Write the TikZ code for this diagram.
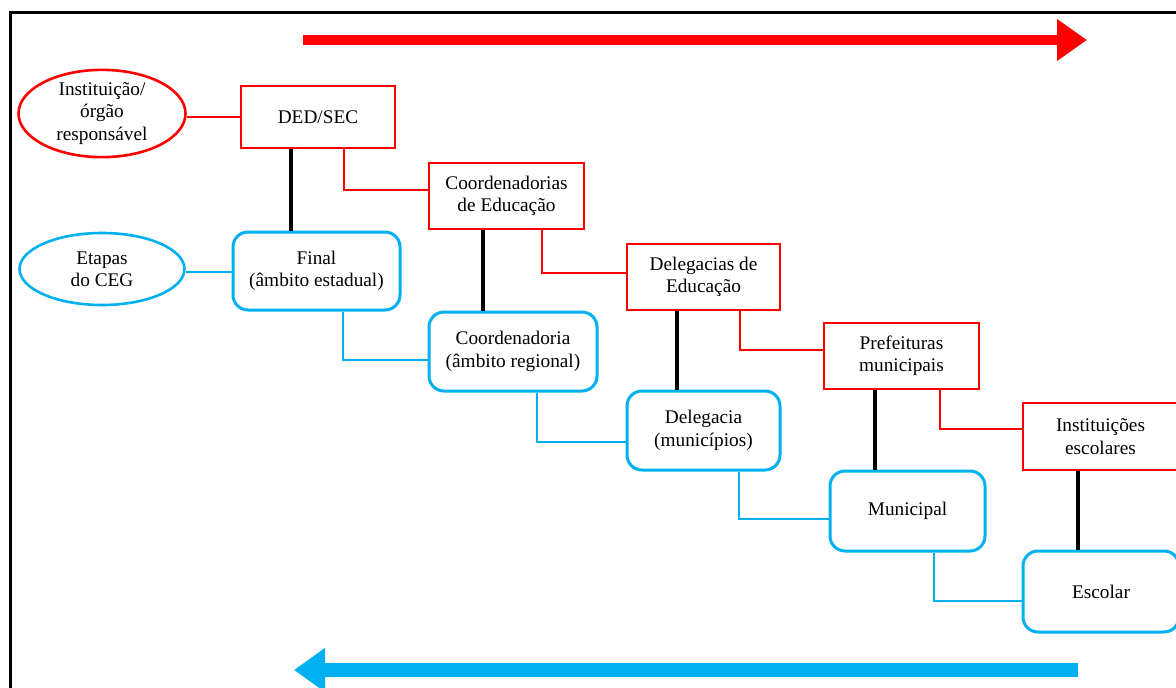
\documentclass[tikz,border=0pt]{standalone}
\usepackage{fontspec}
\setmainfont{Liberation Serif}
\usepackage{xcolor}
\definecolor{orgRed}{HTML}{FF0000}
\definecolor{stageBlue}{HTML}{00B0F0}
\usepackage{tikz}
\usetikzlibrary{%
    shapes,
    shapes.geometric,
    arrows.meta,
    positioning,
    calc
}

\begin{document}
\begin{tikzpicture}[x=1pt, y=-1pt,
                font=\fontsize{19.3}{22.3}\selectfont,
                organ/.style={rectangle, draw=orgRed, line width=2.6pt, minimum width=154pt, minimum height=66pt, inner sep=0pt, text centered, align=center},
                stage/.style={rectangle, rounded corners=15pt, draw=stageBlue, line width=3pt, minimum width=155pt, minimum height=79pt, inner sep=0pt, text centered, align=center},
                legend/.style={ellipse, line width=2.6pt, inner sep=0pt, align=center},
                orgline/.style={draw=orgRed, line width=2.6pt},
                stageline/.style={draw=stageBlue, line width=2.6pt},
                tie/.style={draw=black, line width=4.5pt}
            ]

            \useasboundingbox (0,0) rectangle (1176,688);
            \clip (0,0) rectangle (1176,688);

            % frame
            \coordinate (frameA) at (10,690);
            \coordinate (frameB) at (10,12);
            \coordinate (frameC) at (1180,12);
            \draw[line width=3pt] (frameA) -- (frameB) -- (frameC);

            % legend
            \node (resp) at (102,113.5) [legend, draw=orgRed, minimum width=167pt, minimum height=87pt] {Instituição/\\órgão\\responsável};
            \node (etapas) at (102,269) [legend, draw=stageBlue, minimum width=165pt, minimum height=72pt] {Etapas\\do CEG};

            % responsible bodies
            \node (ded) at (318,117) [organ, minimum height=62pt] {DED/SEC};
            \node (coords) at (506.5,196) [organ, minimum width=155pt] {Coordenadorias\\de Educação};
            \node (delegs) at (703.5,277) [organ, minimum width=153pt] {Delegacias de\\Educação};
            \node (prefs) at (901.5,356) [organ, minimum width=155pt] {Prefeituras\\municipais};
            \node (inst) at (1100.5,436.5) [organ, minimum width=155pt, minimum height=67pt] {Instituições\\escolares};

            % stages
            \node (final) at (316.5,271) [stage, minimum width=167pt, minimum height=78pt] {Final\\(âmbito estadual)};
            \node (coord) at (513,351.5) [stage, minimum width=168pt] {Coordenadoria\\(âmbito regional)};
            \node (deleg) at (703.5,430.5) [stage, minimum width=153pt] {Delegacia\\(municípios)};
            \node (munic) at (907.5,511) [stage, minimum height=80pt] {Municipal};
            \node (escolar) at (1101,591.5) [stage, minimum width=156pt, minimum height=81pt] {Escolar};

            % legend links
            \draw[orgline] (resp.east |- ded.west) -- (ded.west);
            \draw[stageline] ([yshift=-1pt]etapas.east |- final.west) -- ([yshift=-1pt]final.west);

            % chain of bodies
            \draw[orgline] ([xshift=26pt]ded.south) |- ([yshift=6pt]coords.west);
            \draw[orgline] ([xshift=35.5pt]coords.south) |- ([yshift=4pt]delegs.west);
            \draw[orgline] ([xshift=36.5pt]delegs.south) |- ([yshift=6pt]prefs.west);
            \draw[orgline] ([xshift=38.5pt]prefs.south) |- ([yshift=7.5pt]inst.west);

            % chain of stages
            \draw[stageline] ([xshift=26.5pt]final.south) |- ([yshift=-8.5pt]coord.west);
            \draw[stageline] ([xshift=24pt]coord.south) |- ([yshift=-11.5pt]deleg.west);
            \draw[stageline] ([xshift=35.5pt]deleg.south) |- ([yshift=-8pt]munic.west);
            \draw[stageline] ([xshift=26.5pt]munic.south) |- ([yshift=-9.5pt]escolar.west);

            % body to stage
            \draw[tie] ([xshift=-27pt]ded.south) -- ([xshift=-27pt]ded.south |- final.north);
            \draw[tie] ([xshift=-23.5pt]coords.south) -- ([xshift=-23.5pt]coords.south |- coord.north);
            \draw[tie] ([xshift=-26.5pt]delegs.south) -- ([xshift=-26.5pt]delegs.south |- deleg.north);
            \draw[tie] ([xshift=-26.5pt]prefs.south) -- ([xshift=-26.5pt]prefs.south |- munic.north);
            \draw[tie] ([xshift=-22.5pt]inst.south) -- ([xshift=-22.5pt]inst.south |- escolar.north);

            % direction arrows
            \coordinate (downStart) at (303,40);
            \coordinate (downEnd) at (1087,40);
            \coordinate (upStart) at (1078,670);
            \coordinate (upEnd) at (294,670);
            \draw[orgRed, line width=10pt, -{Triangle[length=30pt, width=40pt]}] (downStart) -- (downEnd);
            \draw[stageBlue, line width=14pt, -{Triangle[length=31pt, width=42pt]}] (upStart) -- (upEnd);
        \end{tikzpicture}
\end{document}
